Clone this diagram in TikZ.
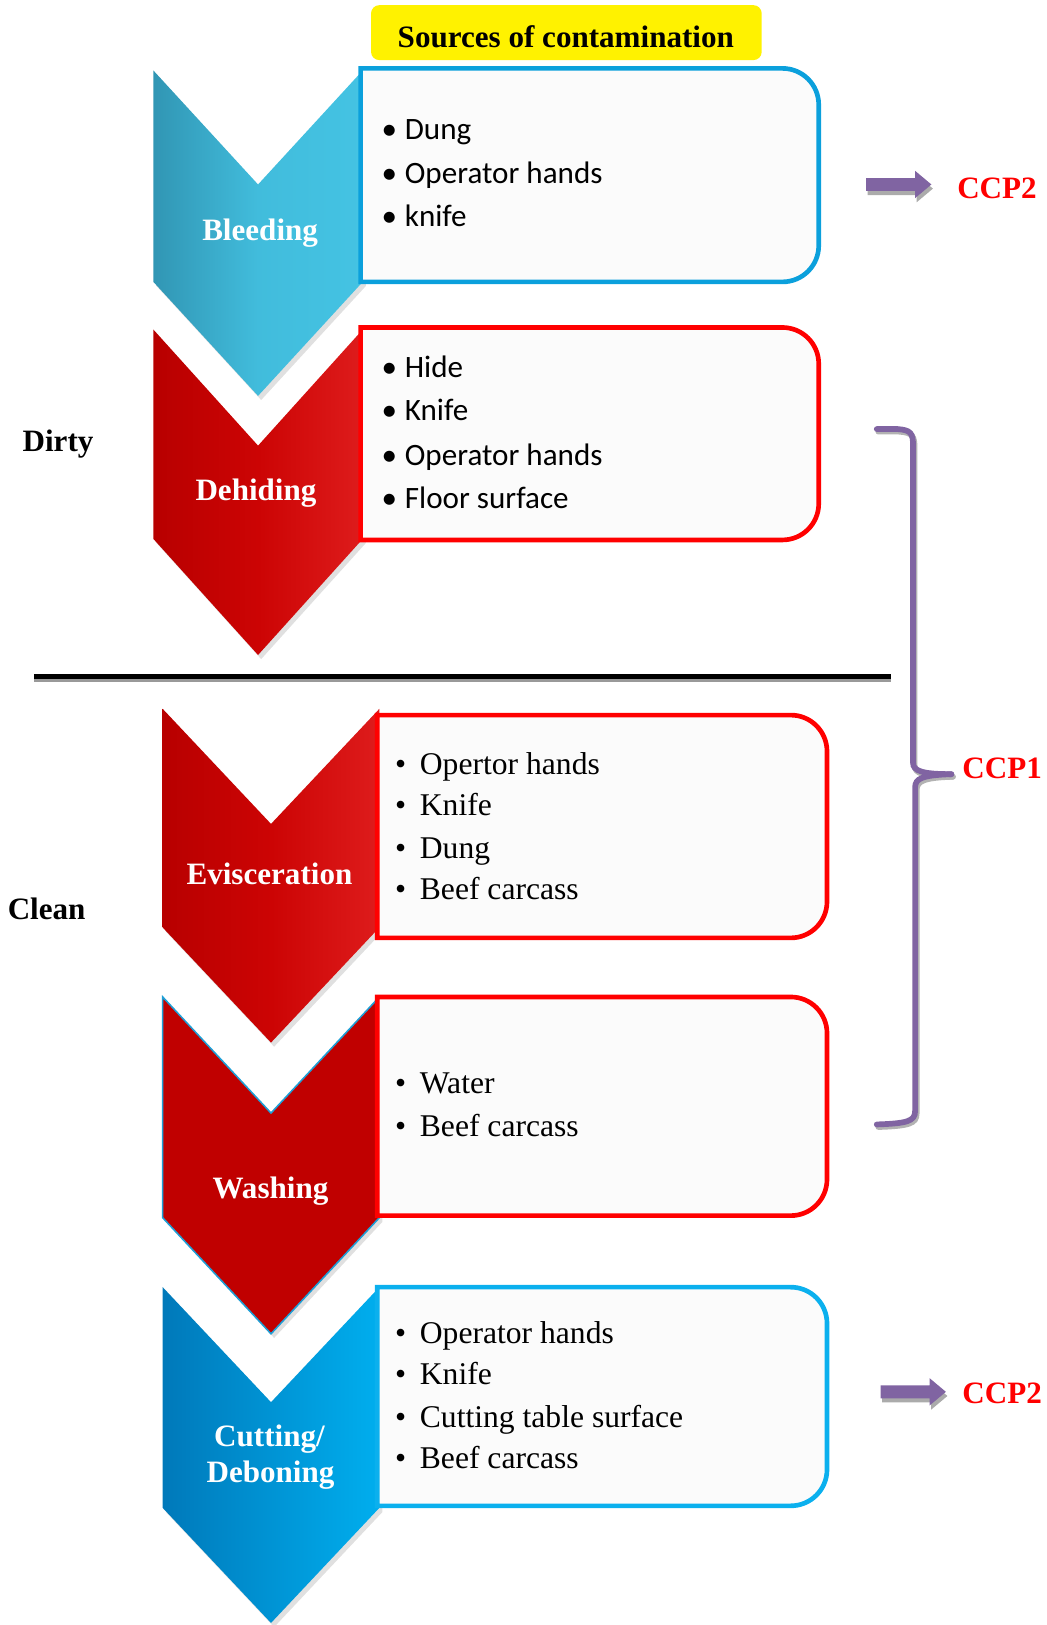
\documentclass[tikz,border=0pt]{standalone}
\usepackage{fontspec}
\setmainfont{Liberation Serif}
\newfontfamily\calib{Carlito}
\usetikzlibrary{shapes.arrows}
\definecolor{tealA}{HTML}{3196B4}
\definecolor{tealB}{HTML}{44C3E3}
\definecolor{redA}{HTML}{B80000}
\definecolor{redM}{HTML}{CC0404}
\definecolor{redB}{HTML}{DE1C1C}
\definecolor{washred}{HTML}{C00000}
\definecolor{washline}{HTML}{1E9FD6}
\definecolor{cutA}{HTML}{0079BA}
\definecolor{cutB}{HTML}{00AEEE}
\definecolor{bblue}{HTML}{0BA0DC}
\definecolor{cblue}{HTML}{0BB0EE}
\definecolor{boxred}{HTML}{FF0000}
\definecolor{boxfill}{HTML}{FBFBFB}
\definecolor{purp}{HTML}{8064A2}
\definecolor{ccpred}{HTML}{FF0000}
\newcommand\mychev[6]{%
  \path[#6] (#1,#3) -- ({(#1+#2)/2},{#3-#5}) -- (#2,#3) -- (#2,#4) -- ({(#1+#2)/2},{#4-#5}) -- (#1,#4) -- cycle;}
\newcommand\mybox[5]{%
  \draw[line width=4.5pt, draw=#5, fill=boxfill] (#1,#3) -- ({#2-35},#3) arc[start angle=90,end angle=0,radius=35pt] -- (#2,{#4+35}) arc[start angle=0,end angle=-90,radius=35pt] -- (#1,#4) -- cycle;}
\newcommand\cbul{\makebox[22.5pt][l]{•}}
\newcommand\tbul{\makebox[24pt][l]{•}}
\begin{document}
\begin{tikzpicture}[x=1pt,y=1pt,
  citem/.style={anchor=base west, inner sep=0pt, font=\calib\fontsize{30}{36}\selectfont},
  titem/.style={anchor=base west, inner sep=0pt, font=\fontsize{30.5}{36}\selectfont},
  steplabel/.style={anchor=base, inner sep=0pt, text=white, font=\bfseries\fontsize{30}{34}\selectfont, align=center},
  sidelabel/.style={anchor=base, inner sep=0pt, font=\bfseries\fontsize{30}{36}\selectfont},
  ccp/.style={anchor=base, inner sep=0pt, text=ccpred, font=\bfseries\fontsize{30}{36}\selectfont},
  arrowbase/.style={single arrow, minimum height=63pt, single arrow head extend=7pt, single arrow tip angle=80, inner sep=0pt, outer sep=0pt},
  blockarrow/.style={arrowbase, fill=purp},
  shadowarrow/.style={arrowbase, fill=black!33},
  bracestyle/.style={draw=purp, line width=5.5pt, line cap=round},
  braceshadow/.style={draw=black!30, line width=5.5pt, line cap=round}]
\useasboundingbox (0,0) rectangle (1010,-1568);

% title
\fill[yellow, rounded corners=8pt] (358,-5) rectangle (735,-58);
\node[sidelabel] (title) at (546,-46) {Sources of contamination};

% chevron shadows
\mychev{151}{353}{-72}{-276}{110}{fill=black!12}
\mychev{151}{353}{-322}{-524}{112}{fill=black!12}
\mychev{160}{369}{-688}{-899}{111}{fill=black!12}
\mychev{160}{369}{-966}{-1179}{112}{fill=black!12}
\mychev{160}{369}{-1246}{-1459}{111}{fill=black!12}

% chevrons
\mychev{148}{350}{-68}{-272}{110}{left color=tealA, right color=tealB, middle color=tealB!85!tealA}
\mychev{148}{350}{-318}{-520}{112}{left color=redA, right color=redB, middle color=redM}
\mychev{157}{366}{-684}{-895}{111}{left color=redA, right color=redB, middle color=redM}
\mychev{157}{366}{-962}{-1175}{112}{fill=washred, draw=washline, line width=1.5pt}
\mychev{157}{366}{-1242}{-1455}{111}{left color=cutA, right color=cutB}

% boxes
\mybox{348}{790}{-66}{-272}{bblue}
\mybox{348}{790}{-316}{-521}{boxred}
\mybox{364}{798}{-690}{-905}{boxred}
\mybox{364}{798}{-962}{-1173}{boxred}
\mybox{364}{798}{-1242}{-1453}{cblue}

% step labels
\node[steplabel] (bleeding) at (251,-232) {Bleeding};
\node[steplabel] (dehiding) at (247,-483) {Dehiding};
\node[steplabel] (evisc) at (260,-853) {Evisceration};
\node[steplabel] (washing) at (261,-1156) {Washing};
\node[steplabel] (cutting) at (260,-1396) {Cutting/};
\node[steplabel] (deboning) at (261,-1430) {Deboning};

% items
\node[citem] (bl1) at (368,-135) {\cbul Dung};
\node[citem] (bl2) at (368,-177) {\cbul Operator hands};
\node[citem] (bl3) at (368,-219) {\cbul knife};
\node[citem] (de1) at (368,-364) {\cbul Hide};
\node[citem] (de2) at (368,-406) {\cbul Knife};
\node[citem] (de3) at (368,-449) {\cbul Operator hands};
\node[citem] (de4) at (368,-491) {\cbul Floor surface};
\node[titem] (ev1) at (381,-747) {\tbul Opertor hands};
\node[titem] (ev2) at (381,-787) {\tbul Knife};
\node[titem] (ev3) at (381,-828) {\tbul Dung};
\node[titem] (ev4) at (381,-868) {\tbul Beef carcass};
\node[titem] (wa1) at (381,-1055) {\tbul Water};
\node[titem] (wa2) at (381,-1097) {\tbul Beef carcass};
\node[titem] (cu1) at (381,-1296) {\tbul Operator hands};
\node[titem] (cu2) at (381,-1336) {\tbul Knife};
\node[titem] (cu3) at (381,-1377) {\tbul Cutting table surface};
\node[titem] (cu4) at (381,-1417) {\tbul Beef carcass};

% side labels
\node[sidelabel] (dirty) at (56,-436) {Dirty};
\node[sidelabel] (clean) at (45,-887) {Clean};

% divider
\coordinate (divL) at (33,-653);
\coordinate (divR) at (860,-653);
\draw[black!40, line width=5pt] ([yshift=-3pt]divL) -- ([yshift=-3pt]divR);
\draw[black, line width=5pt] (divL) -- (divR);

% CCP2 top
\node[shadowarrow] (arr1s) at (865,-182) {\rule{0pt}{12pt}};
\node[blockarrow] (arr1) at (863.5,-178) {\rule{0pt}{12pt}};
\node[ccp] (ccp2a) at (962,-192) {CCP2};

% CCP2 bottom
\node[shadowarrow] (arr2s) at (879,-1347) {\rule{0pt}{12pt}};
\node[blockarrow] (arr2) at (877.5,-1343) {\rule{0pt}{12pt}};
\node[ccp] (ccp2b) at (967,-1354) {CCP2};

% brace
\begin{scope}[shift={(1.5,-2.5)}]
\draw[braceshadow] (846,-414) -- (866,-414) .. controls (879,-415) and (881,-418) .. (881,-430) -- (881,-736) .. controls (881,-744) and (890,-747) .. (918,-747);
\draw[braceshadow] (918,-747) .. controls (890,-748) and (883,-751) .. (883,-760) -- (883,-1072) .. controls (883,-1082) and (875,-1084) .. (846,-1085);
\end{scope}
\draw[bracestyle] (846,-414) -- (866,-414) .. controls (879,-415) and (881,-418) .. (881,-430) -- (881,-736) .. controls (881,-744) and (890,-747) .. (918,-747);
\draw[bracestyle] (918,-747) .. controls (890,-748) and (883,-751) .. (883,-760) -- (883,-1072) .. controls (883,-1082) and (875,-1084) .. (846,-1085);
\node[ccp] (ccp1) at (967,-751) {CCP1};
\end{tikzpicture}
\end{document}
